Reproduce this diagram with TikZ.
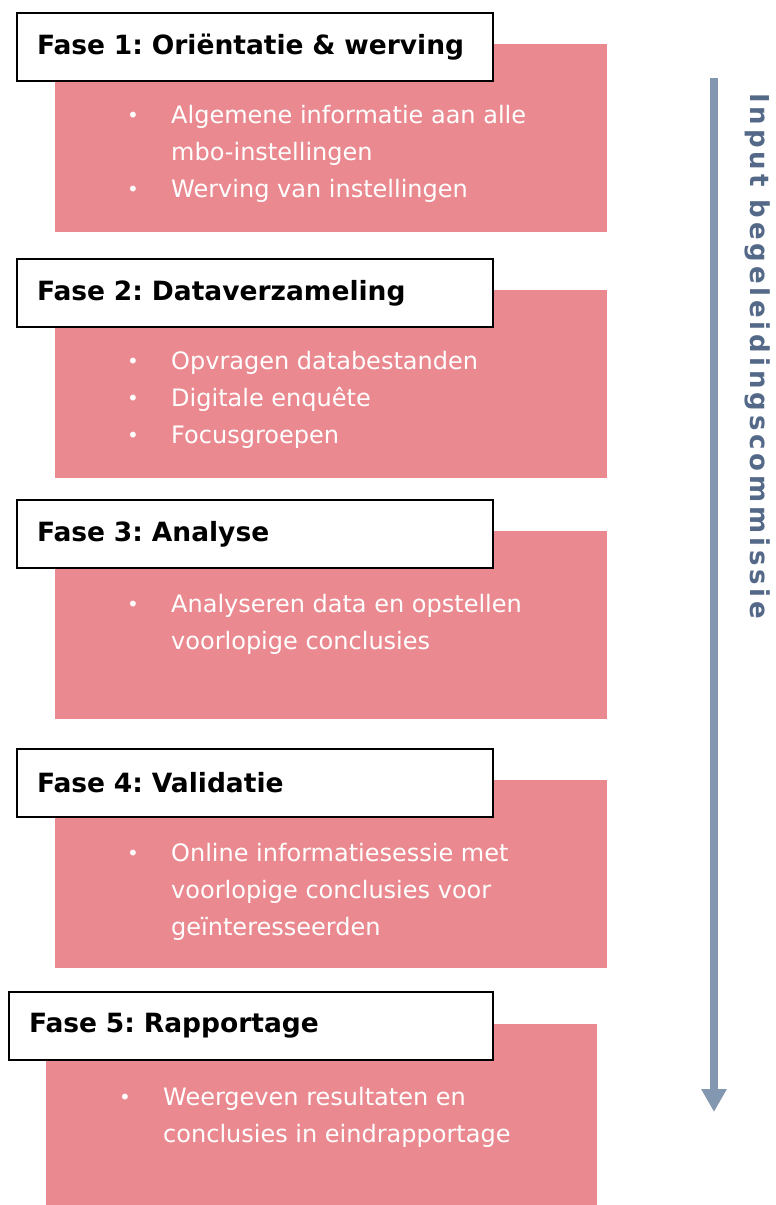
\documentclass[tikz,border=0pt]{standalone}
\usepackage{fontspec}
\setmainfont{DejaVu Sans}
\usetikzlibrary{arrows.meta,positioning}
\definecolor{fasepink}{RGB}{234,138,144}
\definecolor{pijlblauw}{RGB}{132,151,176}
\definecolor{inputblauw}{RGB}{84,104,136}
\newcommand{\bul}{\makebox[44pt][l]{\raisebox{0.5pt}{\fontsize{20}{20}\selectfont\textbullet}}}
\newcommand{\ins}{\hspace*{44pt}}
\frenchspacing

\begin{document}
\begin{tikzpicture}
  [x=1pt,y=-1pt,
   fase/.style={draw=black,line width=2pt,fill=white,anchor=north west,
     minimum height=68pt,text width=436pt,inner xsep=20pt,inner ysep=0pt,
     align=left,font=\fontsize{26.5}{30}\selectfont\bfseries},
   blok/.style={fill=fasepink,anchor=north west,minimum width=552pt,
     minimum height=188pt,inner sep=0pt},
   punten/.style={anchor=north west,inner sep=0pt,text=white,align=left,
     font=\fontsize{24}{37}\selectfont}]
  \useasboundingbox (0,0) rectangle (776,1205);
  % roze blokken
  \node[blok] (b1) at (55,44) {};
  \node[blok] (b2) at (55,290) {};
  \node[blok] (b3) at (55,531) {};
  \node[blok] (b4) at (55,780) {};
  \node[blok,minimum width=551pt,minimum height=181pt] (b5) at (46,1024) {};
  % fasen
  \node[fase] (f1) at (16,12) {Fase 1: Oriëntatie \& werving};
  \node[fase] (f2) at (16,258) {Fase 2: Dataverzameling};
  \node[fase] (f3) at (16,499) {Fase 3: Analyse};
  \node[fase] (f4) at (16,748) {Fase 4: Validatie};
  \node[fase,text width=444pt] (f5) at (8,991) {Fase 5: Rapportage};
  % punten
  \node[punten] (p1) at (127,105) {\bul Algemene informatie aan alle\\
    \ins mbo-instellingen\\ \bul Werving van instellingen};
  \node[punten] (p2) at (127,351) {\bul Opvragen databestanden\\
    \bul Digitale enquête\\ \bul Focusgroepen};
  \node[punten] (p3) at (127,594) {\bul Analyseren data en opstellen\\
    \ins voorlopige conclusies};
  \node[punten] (p4) at (127,843) {\bul Online informatiesessie met\\
    \ins voorlopige conclusies voor\\ \ins geïnteresseerden};
  \node[punten] (p5) at (119,1087) {\bul Weergeven resultaten en\\
    \ins conclusies in eindrapportage};
  % pijl
  \coordinate (pijlbegin) at (714,78);
  \coordinate (pijleind) at (714,1112);
  \draw[pijlblauw,line width=8pt,-{Triangle[width=24pt,length=23pt]}]
    (pijlbegin) -- (pijleind);
  \node[rotate=-90,anchor=west,inner sep=0pt,text=inputblauw,
    font=\fontsize{26}{30}\selectfont\bfseries\addfontfeature{LetterSpace=15}]
    (input) at (758,93) {Input begeleidingscommissie};
\end{tikzpicture}
\end{document}
